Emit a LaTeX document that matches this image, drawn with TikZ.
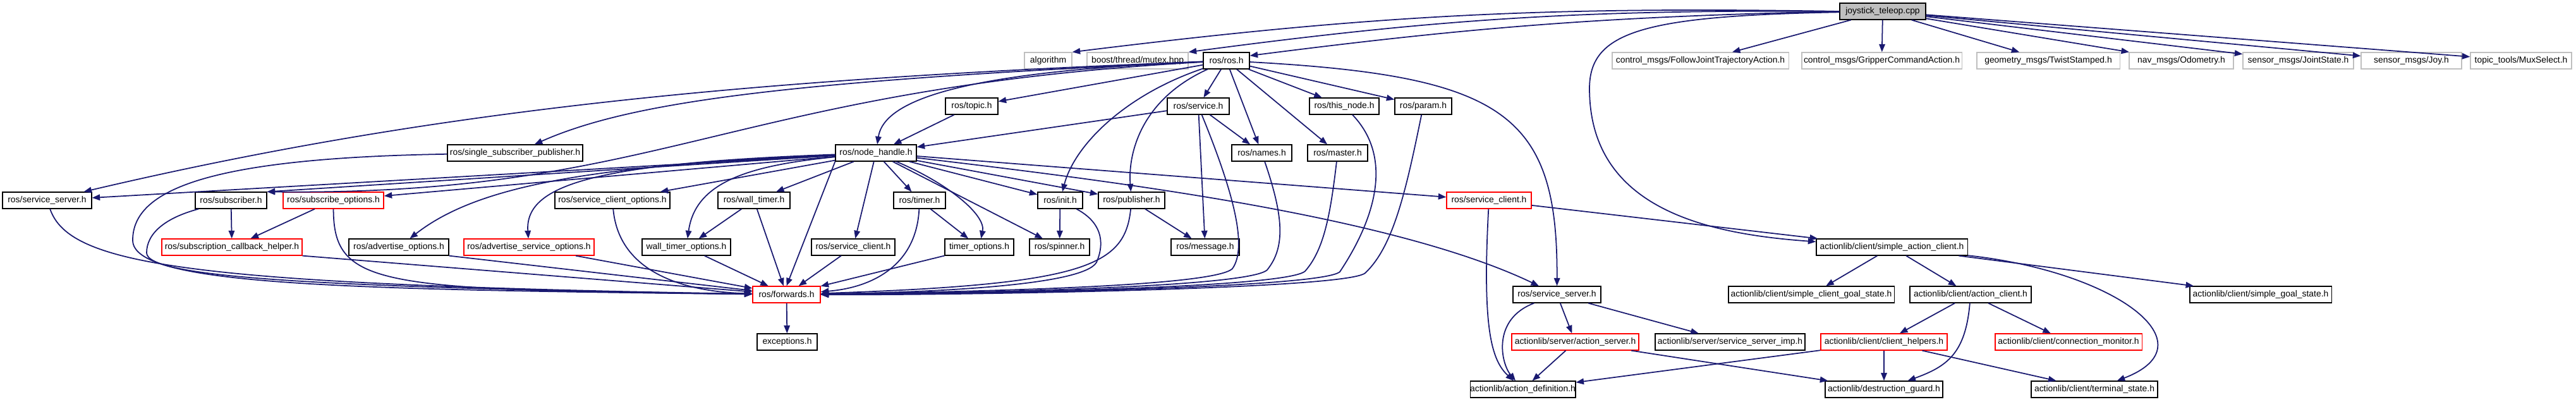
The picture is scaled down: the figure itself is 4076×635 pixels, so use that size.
\documentclass[tikz,border=0pt]{standalone}
\usepackage{fontspec}
\setmainfont{Liberation Sans}
\usetikzlibrary{arrows.meta}
\definecolor{edgeblue}{HTML}{191970}
\definecolor{extgray}{HTML}{BFBFBF}
\definecolor{truncred}{HTML}{FF0000}

\begin{document}
\begin{tikzpicture}[
  x=0.01cm, y=0.01cm,
  box/.style={fill=white, line width=0.35pt, minimum height=0.26cm, inner sep=0pt, font=\fontsize{3.95}{4.5}\selectfont, minimum width=#1},
  file/.style={box=#1, draw=black},
  root/.style={file=#1, fill=extgray},
  ext/.style={box=#1, draw=extgray},
  trunc/.style={box=#1, draw=truncred},
  dep/.style={-{Triangle[length=1.25mm, width=0.95mm]}, draw=edgeblue, line width=0.5pt},
]
  \fill[white] (0,0) rectangle (4076,-635);
  \useasboundingbox (0,0) rectangle (4076,-635);

  \node[root=1.36cm] (joy) at (2979,-18) {joystick\_teleop.cpp};

  \node[ext=0.75cm]   (alg)    at (1658.5,-96) {algorithm};
  \node[ext=1.60cm]   (mutex)  at (1800,-96)   {boost/thread/mutex.hpp};
  \node[file=0.73cm]  (ros)    at (1940.5,-96) {ros/ros.h};
  \node[ext=2.79cm]   (fjt)    at (2690.5,-96) {control\_msgs/FollowJointTrajectoryAction.h};
  \node[ext=2.53cm]   (gca)    at (2977.5,-96) {control\_msgs/GripperCommandAction.h};
  \node[ext=2.26cm]   (twist)  at (3241,-96)   {geometry\_msgs/TwistStamped.h};
  \node[ext=1.65cm]   (odom)   at (3451.5,-96) {nav\_msgs/Odometry.h};
  \node[ext=1.75cm]   (jstate) at (3636.5,-96) {sensor\_msgs/JointState.h};
  \node[ext=1.59cm]   (joymsg) at (3815.5,-96) {sensor\_msgs/Joy.h};
  \node[ext=1.60cm]   (mux)    at (3989,-96)   {topic\_tools/MuxSelect.h};

  \node[file=0.83cm] (topic)    at (1537.5,-168) {ros/topic.h};
  \node[file=0.98cm] (service)  at (1896,-168)   {ros/service.h};
  \node[file=1.10cm] (thisnode) at (2127,-168)   {ros/this\_node.h};
  \node[file=0.90cm] (param)    at (2252,-168)   {ros/param.h};

  \node[file=2.14cm] (ssp)    at (815,-242)    {ros/single\_subscriber\_publisher.h};
  \node[file=1.28cm] (nh)     at (1386,-242)   {ros/node\_handle.h};
  \node[file=0.95cm] (names)  at (1996.5,-242) {ros/names.h};
  \node[file=0.95cm] (master) at (2116.5,-242) {ros/master.h};

  \node[file=1.41cm]  (ssL)    at (74.5,-317)   {ros/service\_server.h};
  \node[file=1.13cm]  (sub)    at (365.5,-317)  {ros/subscriber.h};
  \node[trunc=1.59cm] (subopt) at (527.5,-317)  {ros/subscribe\_options.h};
  \node[file=1.82cm]  (scopt)  at (969,-317)    {ros/service\_client\_options.h};
  \node[file=1.14cm]  (wtimer) at (1193,-317)   {ros/wall\_timer.h};
  \node[file=0.82cm]  (timer)  at (1455,-317)   {ros/timer.h};
  \node[file=0.71cm]  (init)   at (1677.5,-317) {ros/init.h};
  \node[file=1.05cm]  (pub)    at (1790.5,-317) {ros/publisher.h};
  \node[trunc=1.34cm] (scR)    at (2356,-317)   {ros/service\_client.h};

  \node[trunc=2.22cm] (scbh)    at (367,-391)    {ros/subscription\_callback\_helper.h};
  \node[file=1.58cm]  (advopt)  at (631,-391)    {ros/advertise\_options.h};
  \node[trunc=2.06cm] (advsopt) at (837,-391)    {ros/advertise\_service\_options.h};
  \node[file=1.40cm]  (wtopt)   at (1086,-391)   {wall\_timer\_options.h};
  \node[file=1.32cm]  (sc)      at (1350,-391)   {ros/service\_client.h};
  \node[file=1.09cm]  (topt)    at (1549.5,-391) {timer\_options.h};
  \node[file=0.95cm]  (spin)    at (1676.5,-391) {ros/spinner.h};
  \node[file=1.08cm]  (msg)     at (1907,-391)   {ros/message.h};
  \node[file=2.39cm]  (sac)     at (2993.5,-391) {actionlib/client/simple\_action\_client.h};

  \node[trunc=1.07cm] (fwd)  at (1244.5,-466) {ros/forwards.h};
  \node[file=1.39cm]  (ssR)  at (2463.5,-466) {ros/service\_server.h};
  \node[file=2.62cm]  (scgs) at (2866,-466)   {actionlib/client/simple\_client\_goal\_state.h};
  \node[file=1.92cm]  (ac)   at (3118,-466)   {actionlib/client/action\_client.h};
  \node[file=2.24cm]  (sgs)  at (3577,-466)   {actionlib/client/simple\_goal\_state.h};

  \node[file=0.95cm]  (exc)   at (1245.5,-541) {exceptions.h};
  \node[trunc=2.01cm] (as)    at (2492.5,-541) {actionlib/server/action\_server.h};
  \node[file=2.37cm]  (ssimp) at (2737.5,-541) {actionlib/server/service\_server\_imp.h};
  \node[trunc=2.00cm] (ch)    at (2981,-541)   {actionlib/client/client\_helpers.h};
  \node[trunc=2.32cm] (cm)    at (3273,-541)   {actionlib/client/connection\_monitor.h};

  \node[file=1.51cm] (ad) at (2409.5,-616) {actionlib/action\_definition.h};
  \node[file=1.86cm] (dg) at (2981,-616)   {actionlib/destruction\_guard.h};
  \node[file=2.00cm] (ts) at (3314,-616)   {actionlib/client/terminal\_state.h};

  % joystick_teleop.cpp
  \draw[dep] (joy.west) to[bend right=4] (alg.north east);
  \draw[dep] (joy.west) to[bend right=4] (mutex.north east);
  \draw[dep] (joy.west) to[bend right=3] (ros.12);
  \draw[dep] (joy) .. controls (2600,-25) and (2515,-50) .. (2515,-140) .. controls (2515,-330) and (2700,-370) .. (sac);
  \draw[dep] (joy) -- (fjt);
  \draw[dep] (joy) -- (gca);
  \draw[dep] (joy) -- (twist);
  \draw[dep] (joy) -- (odom);
  \draw[dep] (joy) -- (jstate);
  \draw[dep] (joy) -- (joymsg);
  \draw[dep] (joy) -- (mux);

  % ros/ros.h
  \draw[dep] (ros) -- (topic);
  \draw[dep] (ros) -- (service);
  \draw[dep] (ros) -- (thisnode);
  \draw[dep] (ros) -- (param);
  \draw[dep] (ros) -- (names);
  \draw[dep] (ros) -- (master);
  \draw[dep] (ros) .. controls (1800,-160) and (1785,-250) .. (pub);
  \draw[dep] (ros) .. controls (1780,-150) and (1700,-230) .. (init);
  \draw[dep] (ros) .. controls (1560,-112) and (1400,-150) .. (nh);
  \draw[dep] (ros) .. controls (2380,-120) and (2465,-180) .. (ssR);
  \draw[dep] (ros) .. controls (1250,-128) and (1000,-160) .. (ssp);
  \draw[dep] (ros) .. controls (1200,-125) and (700,-170) .. (ssL);
  \draw[dep] (ros) .. controls (1150,-140) and (1050,-310) .. (sub.north east);

  \draw[dep] (topic) -- (nh);
  \draw[dep] (service) -- (nh);
  \draw[dep] (service) -- (names);
  \draw[dep] (service) -- (msg);
  \draw[dep] (service) .. controls (1950,-300) and (1975,-390) .. (1950,-425) .. controls (1920,-455) and (1500,-462) .. (fwd);
  \draw[dep] (names) .. controls (2030,-340) and (2035,-390) .. (2005,-427) .. controls (1975,-456) and (1500,-464) .. (fwd);
  \draw[dep] (master) .. controls (2105,-340) and (2095,-395) .. (2065,-429) .. controls (2035,-457) and (1500,-465) .. (fwd);
  \draw[dep] (thisnode) .. controls (2215,-260) and (2160,-370) .. (2120,-430) .. controls (2090,-457) and (1500,-466) .. (fwd);
  \draw[dep] (param) .. controls (2225,-300) and (2205,-390) .. (2160,-432) .. controls (2130,-458) and (1500,-467) .. (fwd);

  % ros/node_handle.h
  \draw[dep] (nh) -- (ssL);
  \draw[dep] (nh) -- (sub.north east);
  \draw[dep] (nh) -- (subopt);
  \draw[dep] (nh) -- (scopt);
  \draw[dep] (nh) -- (wtimer);
  \draw[dep] (nh) -- (timer);
  \draw[dep] (nh) -- (init);
  \draw[dep] (nh) -- (pub);
  \draw[dep] (nh) -- (scR);
  \draw[dep] (nh) .. controls (1750,-285) and (2200,-340) .. (ssR);
  \draw[dep] (nh) -- (sc);
  \draw[dep] (nh) -- (spin);
  \draw[dep] (nh.south west) -- (fwd.north);
  \draw[dep] (nh) .. controls (1500,-290) and (1560,-340) .. (topt);
  \draw[dep] (nh) .. controls (1180,-262) and (1100,-290) .. (wtopt);
  \draw[dep] (nh) .. controls (950,-258) and (830,-290) .. (advsopt);
  \draw[dep] (nh) .. controls (950,-262) and (760,-290) .. (advopt);

  \draw[dep] (ssp) .. controls (330,-250) and (210,-300) .. (210,-380) .. controls (210,-450) and (520,-458) .. (fwd);
  \draw[dep] (ssL) .. controls (110,-420) and (300,-450) .. (fwd);
  \draw[dep] (sub) .. controls (260,-345) and (232,-370) .. (232,-400) .. controls (232,-440) and (520,-455) .. (fwd);
  \draw[dep] (sub) -- (scbh);
  \draw[dep] (subopt) -- (scbh);
  \draw[dep] (subopt) .. controls (528,-455) and (600,-458) .. (fwd);
  \draw[dep] (scbh.south east) -- (fwd);
  \draw[dep] (advopt.south east) -- (fwd);
  \draw[dep] (advsopt) -- (fwd);
  \draw[dep] (scopt) .. controls (980,-440) and (1100,-462) .. (fwd);
  \draw[dep] (wtimer) -- (wtopt);
  \draw[dep] (wtimer) -- (fwd);
  \draw[dep] (wtopt) -- (fwd);
  \draw[dep] (sc) -- (fwd);
  \draw[dep] (timer) -- (topt);
  \draw[dep] (timer) .. controls (1450,-420) and (1380,-455) .. (fwd);
  \draw[dep] (topt) -- (fwd);
  \draw[dep] (init) -- (spin);
  \draw[dep] (init) .. controls (1740,-350) and (1750,-380) .. (1735,-415) .. controls (1715,-450) and (1500,-462) .. (fwd);
  \draw[dep] (pub) -- (msg);
  \draw[dep] (pub) .. controls (1780,-420) and (1720,-450) .. (fwd);
  \draw[dep] (fwd) -- (exc);

  % actionlib
  \draw[dep] (scR) -- (sac);
  \draw[dep] (scR) .. controls (2345,-520) and (2360,-570) .. (ad);
  \draw[dep] (ssR) .. controls (2360,-505) and (2375,-575) .. (ad);
  \draw[dep] (ssR) -- (as);
  \draw[dep] (ssR) -- (ssimp);
  \draw[dep] (as) -- (ad);
  \draw[dep] (as) -- (dg);
  \draw[dep] (sac) -- (scgs);
  \draw[dep] (sac) -- (ac);
  \draw[dep] (sac) -- (sgs);
  \draw[dep] (sac) .. controls (3350,-430) and (3500,-545) .. (ts);
  \draw[dep] (ac) -- (ch);
  \draw[dep] (ac) -- (cm);
  \draw[dep] (ac) .. controls (3110,-560) and (3080,-580) .. (dg);
  \draw[dep] (ch) -- (ad);
  \draw[dep] (ch) -- (dg);
  \draw[dep] (ch) -- (ts);
\end{tikzpicture}
\end{document}
